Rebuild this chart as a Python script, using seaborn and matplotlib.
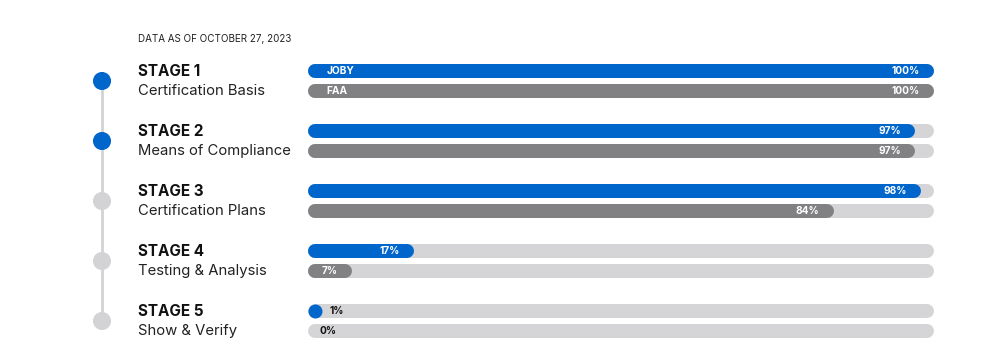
import matplotlib.pyplot as plt
import pandas as pd
import seaborn as sns

# Data
stages = ['STAGE 1', 'STAGE 2', 'STAGE 3', 'STAGE 4', 'STAGE 5']
subtitles = ['Certification Basis', 'Means of Compliance', 'Certification Plans',
             'Testing & Analysis', 'Show & Verify']
joby = [100, 97, 98, 17, 1]
faa = [100, 97, 84, 7, 0]
complete = [True, True, False, False, False]

BLUE = '#0066cc'
GRAY = '#818184'
TRACK = '#d5d5d7'
DOT = '#d3d3d5'

sns.set_theme(style='white')
plt.rcParams['font.family'] = ['Inter', 'DejaVu Sans']

df = pd.DataFrame({'stage': stages, 'sub': subtitles, 'joby': joby, 'faa': faa,
                   'done': complete})
df['pos'] = range(len(df))

fig = plt.figure(figsize=(9.82, 3.58), dpi=100)
W, H = 982, 358
ylim = ((H - 81) / 60, -81 / 60)

# Left: timeline and stage labels
axl = fig.add_axes([0, 0, 308 / W, 1])
axl.set_xlim(0, 308)
axl.set_ylim(*ylim)
axl.axis('off')
axl.plot([102, 102], [0, len(df) - 1], color=DOT, lw=2, zorder=1)
sns.scatterplot(data=df, x=[102] * len(df), y='pos', hue='done',
                palette={True: BLUE, False: DOT}, s=170, linewidth=0,
                legend=False, ax=axl, zorder=2)
for _, r in df.iterrows():
    axl.text(138, r['pos'] - 1 / 6, r['stage'], fontsize=11, fontweight='bold',
             color='#111111', va='center', ha='left')
    axl.text(138, r['pos'] + 1 / 6, r['sub'], fontsize=10.7, color='#222222',
             va='center', ha='left')
axl.text(138, -1.35 + 39 / 60, 'DATA AS OF OCTOBER 27, 2023', fontsize=7.1,
         color='#222222', va='center', ha='left')

# Right: progress bars
ax = fig.add_axes([308 / W, 0, 626 / W, 1])
ax.set_xlim(0, 100)
ax.set_ylim(*ylim)
ax.axis('off')
cap = 7 / 6.26  # round cap radius in percent units
lw = 14 * 72 / 100

def bar(y, v, color, label=None):
    ax.hlines(y, cap, 100 - cap, color=TRACK, lw=lw, capstyle='round', zorder=1)
    if v - cap > cap:
        ax.hlines(y, cap, v - cap, color=color, lw=lw, capstyle='round', zorder=2)
    elif v > 0:
        ax.plot([cap], [y], 'o', color=color, ms=lw, mew=0, zorder=2)
    if v >= 5:
        ax.text(v - 2.3, y, f'{v}%', color='white', fontsize=7.3,
                fontweight='bold', va='center', ha='right', zorder=3)
    else:
        ax.text(3.4 if v > 0 else 1.8, y, f'{v}%', color='#111111',
                fontsize=7.3, fontweight='bold', va='center', ha='left', zorder=3)
    if label:
        ax.text(2.9, y, label, color='white', fontsize=7.3, fontweight='bold',
                va='center', ha='left', zorder=3)

for _, r in df.iterrows():
    bar(r['pos'] - 1 / 6, r['joby'], BLUE, 'JOBY' if r['pos'] == 0 else None)
    bar(r['pos'] + 1 / 6, r['faa'], GRAY, 'FAA' if r['pos'] == 0 else None)

plt.savefig('out.png', dpi=100)
